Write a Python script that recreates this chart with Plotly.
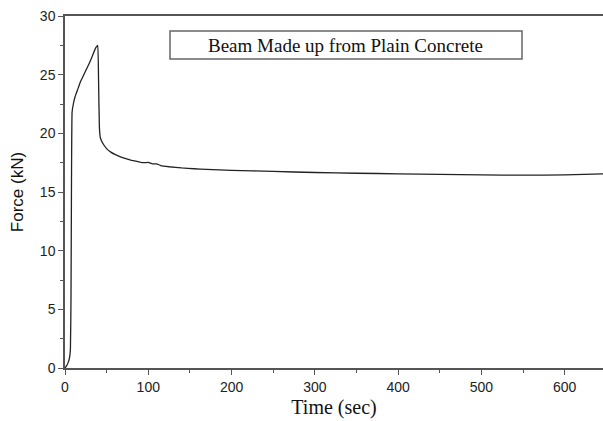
import plotly.graph_objects as go

time_sec = [0, 2, 4, 5.5, 6.5, 7.2, 7.8, 8.5, 10, 12, 15, 18, 22, 26, 30, 34, 37, 39.3,
            40.3, 41.3, 42.5, 45, 50, 55, 60, 70, 80, 90, 95, 100, 105, 110, 115, 125,
            140, 155, 170, 185, 200, 250, 300, 350, 400, 450, 500, 550, 600, 646]
force_kn = [0, 0.2, 0.5, 0.9, 1.6, 6, 16, 21.8, 22.5, 23.1, 23.7, 24.3, 24.9, 25.5, 26.1,
            26.8, 27.3, 27.5, 24.5, 20.5, 19.6, 19.2, 18.7, 18.4, 18.2, 17.9, 17.7, 17.55,
            17.5, 17.52, 17.4, 17.4, 17.25, 17.15, 17.05, 16.98, 16.93, 16.89, 16.85, 16.75,
            16.66, 16.6, 16.55, 16.5, 16.46, 16.43, 16.46, 16.55]

x_ticks = [0, 100, 200, 300, 400, 500, 600]
y_ticks = [0, 5, 10, 15, 20, 25, 30]
title_text = "Beam Made up from Plain Concrete"

fig = go.Figure()
fig.add_trace(go.Scatter(x=time_sec, y=force_kn, mode="lines",
                         line=dict(color="#222222", width=1.3, shape="spline", smoothing=0.3),
                         showlegend=False))

axis_col = "#555555"
fig.update_layout(
    width=603, height=421,
    margin=dict(l=65, r=0, t=16, b=53),
    paper_bgcolor="white", plot_bgcolor="white",
    xaxis=dict(range=[0, 646], tickvals=x_ticks, ticks="outside", ticklen=5,
               tickcolor=axis_col, showline=True, linecolor=axis_col, linewidth=1.5,
               mirror=True, showgrid=False, zeroline=False,
               minor=dict(dtick=50, ticks="outside", ticklen=3, tickcolor=axis_col),
               tickfont=dict(family="Liberation Sans, Arial", size=14, color="#222"),
               title=dict(text="Time (sec)", standoff=6,
                          font=dict(family="Liberation Serif, Times New Roman", size=20, color="#111"))),
    yaxis=dict(range=[0, 30], tickvals=y_ticks, ticks="outside", ticklen=5,
               tickcolor=axis_col, showline=True, linecolor=axis_col, linewidth=1.5,
               mirror=False, showgrid=False, zeroline=False,
               minor=dict(dtick=2.5, ticks="outside", ticklen=3, tickcolor=axis_col),
               tickfont=dict(family="Liberation Sans, Arial", size=14, color="#222"),
               title=dict(text="Force (kN)", standoff=12,
                          font=dict(family="Liberation Sans, Arial", size=17, color="#111"))),
    shapes=[dict(type="rect", xref="paper", yref="paper",
                 x0=(170 - 65) / 538, x1=(522 - 65) / 538,
                 y0=(368 - 59) / 352, y1=(368 - 31) / 352,
                 line=dict(color="#666666", width=1.5))],
    annotations=[dict(text=title_text, xref="paper", yref="paper",
                      x=(345 - 65) / 538, y=(368 - 45) / 352, showarrow=False,
                      xanchor="center", yanchor="middle",
                      font=dict(family="Liberation Serif, Times New Roman", size=19, color="#111"))],
)

fig.write_html("out.html")
